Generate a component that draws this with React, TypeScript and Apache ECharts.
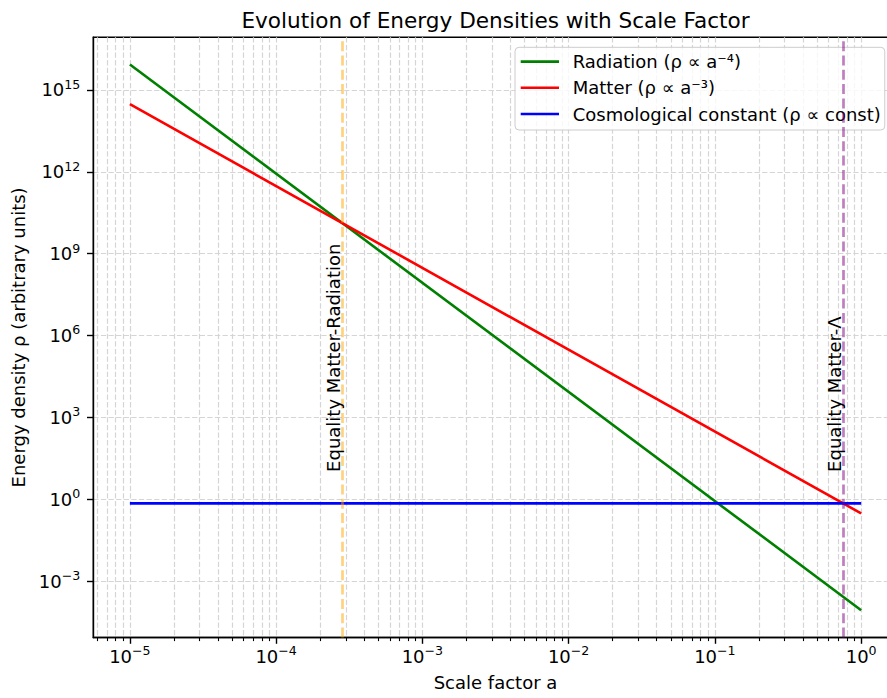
import React, { useEffect, useRef } from 'react';
import * as echarts from 'echarts';

// ---- data ----
const scaleFactor = [1e-5, 1];
const radiationDensity = [8.5e15, 8.5e-5];
const matterDensity = [3e14, 0.3];
const lambdaDensity = [0.7, 0.7];
const equalityScaleFactor = [2.83e-4, 0.754];
const equalityLabels = ['Equality Matter-Radiation', 'Equality Matter-Λ'];
const equalityLabelDensity = [10, 10];
const seriesNames = ['Radiation (ρ ∝ a⁻⁴)', 'Matter (ρ ∝ a⁻³)', 'Cosmological constant (ρ ∝ const)'];
const xTickValues = [1e-5, 1e-4, 1e-3, 1e-2, 1e-1, 1];
const yTickValues = [1e-3, 1, 1e3, 1e6, 1e9, 1e12, 1e15];
const xLimits = [5.62e-6, 1.778];
const yLimits = [8.5e-6, 8.5e16];

const FONT = 'DejaVu Sans';
const COLORS = ['#008000', '#ff0000', '#0000ff'];
const EQ_COLORS = ['rgba(255,165,0,0.5)', 'rgba(128,0,128,0.5)'];

const pow10Label = (v: number) => {
  const e = Math.round(Math.log10(v));
  const s = e < 0 ? '\u2212' + -e : String(e);
  return `{b|10}{s|${s}}`;
};
const richLabel = {
  b: { fontSize: 18, lineHeight: 18, fontFamily: FONT, color: '#000' },
  s: { fontSize: 12.6, lineHeight: 13, fontFamily: FONT, color: '#000', padding: [0, 0, 11, 0] },
};
const gridStyle = { color: '#d5d5d5', width: 1.2, type: [5.3, 2.3] };

const CHART_W = 910;

export default function App() {
  const ref = useRef<HTMLDivElement>(null);
  useEffect(() => {
    if (!ref.current) return;
    const chart = echarts.init(ref.current, null, { renderer: 'svg' });
    const series = [radiationDensity, matterDensity, lambdaDensity].map((vals, i) => ({
      name: seriesNames[i],
      type: 'line',
      data: scaleFactor.map((a, j) => [a, vals[j]]),
      symbol: 'none',
      showSymbol: false,
      lineStyle: { color: COLORS[i], width: 2.6 },
      itemStyle: { color: COLORS[i] },
      z: 3,
      ...(i === 2
        ? {
            markLine: {
              silent: true,
              precision: 10,
              symbol: ['none', 'none'],
              label: { show: false },
              animation: false,
              data: equalityScaleFactor.map((a, k) => ({
                xAxis: a,
                lineStyle: { color: EQ_COLORS[k], width: 2.7, type: [10, 4.3] },
              })),
            },
          }
        : {}),
    }));
    const option: any = {
      animation: false,
      textStyle: { fontFamily: FONT },
      grid: {
        left: 93.3,
        top: 37.3,
        right: CHART_W - 897.7,
        bottom: 60.5,
        show: true,
        borderColor: '#000',
        borderWidth: 1.4,
        containLabel: false,
      },
      graphic: [
        {
          type: 'text',
          x: 495.5,
          y: 20,
          style: {
            text: 'Evolution of Energy Densities with Scale Factor',
            fontSize: 21.6,
            fontFamily: FONT,
            fill: '#000',
            align: 'center',
            verticalAlign: 'middle',
          },
        },
      ],
      legend: {
        data: seriesNames,
        orient: 'vertical',
        left: 515,
        top: 47.3,
        padding: [4.3, 4, 6, 5.7],
        itemWidth: 38.3,
        itemHeight: 2.6,
        itemGap: 6.2,
        icon: 'rect',
        textStyle: { fontSize: 18, fontFamily: FONT, color: '#000', lineHeight: 20, padding: [0, 0, 0, 8.7] },
        borderColor: '#cccccc',
        borderWidth: 1,
        borderRadius: 4,
        backgroundColor: 'rgba(255,255,255,0.8)',
      },
      xAxis: {
        type: 'log',
        logBase: 10,
        min: xLimits[0],
        max: xLimits[1],
        name: 'Scale factor a',
        nameLocation: 'middle',
        nameGap: 36,
        nameTextStyle: { fontSize: 18, fontFamily: FONT, color: '#000' },
        axisLine: { show: true, lineStyle: { color: '#000', width: 1.4 } },
        axisTick: { show: true, length: 6.3, lineStyle: { color: '#000', width: 1.4 }, customValues: xTickValues },
        axisLabel: { customValues: xTickValues, formatter: pow10Label, rich: richLabel, margin: 9.5 },
        minorTick: { show: true, splitNumber: 9, length: 3.6, lineStyle: { color: '#000', width: 1.1 } },
        splitLine: { show: true, lineStyle: gridStyle },
        minorSplitLine: { show: true, lineStyle: gridStyle },
      },
      yAxis: {
        type: 'log',
        logBase: 10,
        min: yLimits[0],
        max: yLimits[1],
        name: 'Energy density ρ (arbitrary units)',
        nameLocation: 'middle',
        nameGap: 64,
        nameTextStyle: { fontSize: 18, fontFamily: FONT, color: '#000' },
        axisLine: { show: true, lineStyle: { color: '#000', width: 1.4 } },
        axisTick: { show: true, length: 6.3, lineStyle: { color: '#000', width: 1.4 }, customValues: yTickValues },
        axisLabel: { customValues: yTickValues, formatter: pow10Label, rich: richLabel, margin: 13 },
        minorTick: { show: false },
        splitLine: { show: true, lineStyle: gridStyle },
        minorSplitLine: { show: false },
      },
      series: [
        ...series,
        {
          name: 'equality-labels',
          type: 'custom',
          z: 5,
          silent: true,
          data: equalityScaleFactor.map((a, i) => [a, equalityLabelDensity[i]]),
          renderItem: (params: any, api: any) => {
            const p = api.coord([api.value(0), api.value(1)]);
            return {
              type: 'text',
              x: p[0],
              y: p[1],
              rotation: Math.PI / 2,
              style: {
                text: equalityLabels[params.dataIndex],
                fontSize: 18,
                fontFamily: FONT,
                fill: '#000',
                align: 'left',
                verticalAlign: 'bottom',
              },
            };
          },
        },
      ],
    };
    chart.setOption(option);
    return () => chart.dispose();
  }, []);
  return (
    <div style={{ position: 'absolute', left: 0, top: 0, width: 887, height: 698, overflow: 'hidden' }}>
      <div ref={ref} style={{ width: CHART_W, height: 698 }} />
    </div>
  );
}
